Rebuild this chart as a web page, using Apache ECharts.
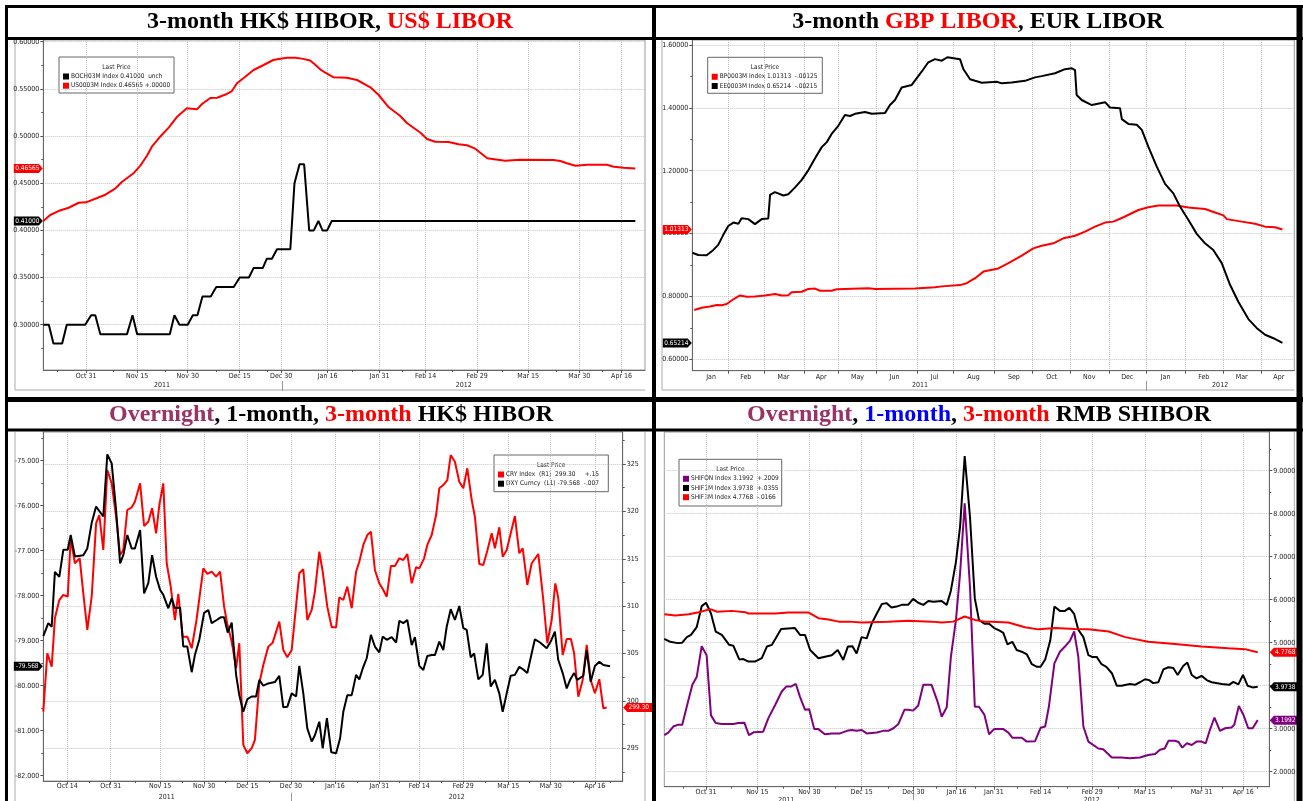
<!DOCTYPE html>
<html><head><meta charset="utf-8"><title>Interbank rates</title>
<script src="https://cdn.jsdelivr.net/npm/echarts@6/dist/echarts.min.js"></script>
<style>html,body{margin:0;padding:0;background:#fff}#chart{width:1303px;height:801px}</style>
</head><body><div id="chart"></div>
<script>
// ================= DATA =================
// x values = trading-day position on each panel's date axis

// ---- Panel 1: 3-month HK$ HIBOR (BOCH03M) vs US$ LIBOR (US0003M) ----
const p1XLabels = [[9.3,'Oct 31'],[20.4,'Nov 15'],[31.4,'Nov 30'],[42.7,'Dec 15'],[51.7,'Dec 30'],[61.8,'Jan 16'],[73.1,'Jan 31'],[83.1,'Feb 14'],[94.3,'Feb 29'],[105.4,'Mar 15'],[116.5,'Mar 30'],[125.7,'Apr 16']];
const p1XMinor = [3.1,15.3,26.5,37.7,48.6,67.1,78,88.8,99.7,111.6,121.4];
const p1Years = [[25.8,'2011'],[91.4,'2012']];
const p1YearSep = [52];
const p1YTicks = [0.30,0.35,0.40,0.45,0.50,0.55,0.60];
const p1YMinor = [0.275,0.325,0.375,0.425,0.475,0.525,0.575];
const hkHibor3m = [[0,0.30],[1.2,0.30],[2.2,0.28],[4.1,0.28],[5.1,0.30],[9.1,0.30],[10.4,0.31],[11.3,0.31],[12.4,0.29],[18.2,0.29],[19.4,0.31],[20.4,0.29],[27.5,0.29],[28.5,0.31],[29.6,0.30],[31.4,0.30],[32.5,0.31],[33.5,0.31],[34.6,0.33],[36.4,0.33],[37.6,0.34],[41.4,0.34],[42.7,0.35],[44.7,0.35],[45.7,0.36],[47.7,0.36],[48.6,0.37],[49.7,0.37],[50.8,0.38],[53.7,0.38],[54.6,0.45],[55.7,0.47],[56.7,0.47],[57.8,0.40],[58.8,0.40],[59.8,0.41],[60.7,0.40],[61.7,0.40],[62.7,0.41],[128.7,0.41]];
const usLibor3m = [[0,0.410],[1.5,0.4163],[3.3,0.4205],[5.5,0.424],[7.7,0.4293],[9.3,0.4297],[11.7,0.4343],[13.5,0.4378],[15.7,0.4446],[17,0.451],[19.6,0.4605],[21.1,0.4686],[22.5,0.4788],[23.6,0.4887],[25.4,0.4993],[27.3,0.5092],[29.1,0.5205],[31.2,0.5294],[33.4,0.5283],[34.5,0.534],[36.3,0.5403],[37.8,0.5406],[39.9,0.5446],[41,0.5477],[42.1,0.5559],[43.9,0.5629],[45.7,0.570],[47.9,0.5753],[50,0.5806],[51.5,0.582],[53,0.583],[54.8,0.583],[56.5,0.5818],[58,0.580],[59,0.576],[60.2,0.5707],[61.3,0.5671],[63.1,0.5622],[66,0.5618],[68.2,0.5594],[71.1,0.5516],[72.9,0.5435],[75.1,0.5305],[77.6,0.5212],[79.1,0.5135],[82,0.5035],[83.4,0.4968],[85.2,0.494],[88.1,0.4937],[90.3,0.4912],[92.1,0.4902],[93.9,0.4866],[96.5,0.4764],[100.4,0.4738],[103.7,0.4749],[110.9,0.4746],[112.4,0.4735],[113.8,0.4711],[115.7,0.4686],[118.2,0.4696],[122.5,0.4696],[124,0.4675],[126.2,0.4664],[128.7,0.46565]];
const p1Legend = [['#000000','BOCH03M Index 0.41000  unch'],['#ff0000','US0003M Index 0.46565 +.00000']];
const p1Tags = ['0.41000','0.46565'];

// ---- Panel 2: 3-month GBP LIBOR (BP0003M) vs EUR LIBOR (EE0003M) ----
const p2XLabels = [[10.4,'Jan'],[29.7,'Feb'],[50.6,'Mar'],[71.6,'Apr'],[91.8,'May'],[112.3,'Jun'],[134.6,'Jul'],[156.2,'Aug'],[178.6,'Sep'],[199.6,'Oct'],[220.5,'Nov'],[241.6,'Dec'],[262.9,'Jan'],[284.1,'Feb'],[305.2,'Mar'],[325.8,'Apr']];
const p2XBounds = [20,39.8,62.2,81.1,102.4,124.7,145,167.8,188.9,210.2,231.7,252.4,274.1,294.7,316.3];
const p2Years = [[126.5,'2011'],[293.2,'2012']];
const p2YearSep = [252.4];
const p2YTicks = [0.6,0.8,1.0,1.2,1.4,1.6];
const p2YMinor = [0.7,0.9,1.1,1.3,1.5];
const gbpLibor3m = [[1.1,0.757],[5.2,0.764],[9.8,0.768],[13.6,0.773],[16.3,0.772],[19.1,0.776],[22.8,0.791],[26.5,0.803],[30.2,0.799],[34.8,0.800],[40.4,0.803],[46,0.808],[49.7,0.803],[53.3,0.804],[55.2,0.813],[60.8,0.815],[64.5,0.824],[68.2,0.825],[70.9,0.818],[77.4,0.818],[80.2,0.823],[97.8,0.826],[101.5,0.824],[123.7,0.825],[134.8,0.829],[138.6,0.832],[148.7,0.836],[152.4,0.842],[157.1,0.858],[161.7,0.879],[170,0.889],[175.6,0.906],[183,0.930],[189.4,0.953],[194.1,0.961],[200.6,0.969],[206.1,0.985],[212.6,0.993],[218.2,1.006],[223.7,1.022],[229.3,1.035],[233.9,1.038],[239.5,1.052],[247.8,1.075],[253.3,1.084],[258.9,1.089],[269.1,1.089],[275.6,1.083],[284.8,1.078],[290.4,1.067],[295,1.058],[296.9,1.046],[305.2,1.038],[312.6,1.031],[318.2,1.022],[323.7,1.020],[327.8,1.01313]];
const eurLibor3m = [[0,0.939],[3.3,0.932],[8,0.931],[11.7,0.948],[14.4,0.964],[17.2,0.996],[20,1.024],[22.8,1.035],[25.6,1.031],[27.4,1.049],[31.1,1.046],[34.8,1.030],[38.6,1.046],[42.2,1.048],[43.2,1.123],[45.9,1.132],[50.6,1.121],[53.3,1.125],[57.1,1.147],[60.8,1.171],[64.5,1.202],[68.2,1.240],[71.9,1.275],[74.7,1.291],[77.4,1.317],[81.1,1.343],[84.8,1.377],[87.6,1.374],[90.4,1.381],[95.9,1.387],[99.7,1.381],[107.1,1.384],[109.8,1.409],[112.6,1.425],[116.3,1.465],[121.9,1.473],[127.4,1.515],[131.1,1.545],[134.8,1.555],[138.6,1.550],[141.7,1.561],[148.7,1.555],[150.6,1.523],[154.3,1.491],[157.1,1.486],[160.8,1.480],[169.1,1.483],[171.9,1.478],[177.4,1.481],[184.8,1.486],[190.4,1.497],[194.1,1.501],[201.5,1.510],[207,1.523],[210.8,1.526],[212.6,1.520],[213.5,1.441],[216.3,1.425],[221.9,1.409],[229.3,1.418],[232,1.401],[237.6,1.399],[238.6,1.364],[242.2,1.349],[246.9,1.346],[249.7,1.330],[253.3,1.277],[258,1.213],[262.6,1.158],[267.2,1.128],[270.9,1.086],[275.6,1.043],[280.2,0.999],[284.8,0.969],[289.4,0.948],[294.1,0.906],[298.7,0.837],[303.3,0.783],[308.9,0.728],[313.6,0.699],[318.2,0.678],[322.8,0.667],[327.8,0.65214]];
const p2Legend = [['#ff0000','BP0003M Index 1.01313  -.00125'],['#000000','EE0003M Index 0.65214  -.00215']];
const p2Tags = ['1.01313','0.65214'];

// ---- Panel 3: CRY Index (R1) vs DXY Curncy (L1) ----
const p3XLabels = [[6,'Oct 14'],[16.85,'Oct 31'],[29.2,'Nov 15'],[40.2,'Nov 30'],[51,'Dec 15'],[61.9,'Dec 30'],[72.9,'Jan 16'],[84,'Jan 31'],[94,'Feb 14'],[105,'Feb 29'],[116.25,'Mar 15'],[126.85,'Mar 30'],[137.9,'Apr 16']];
const p3XMinor = [11.4,23,34.7,45.6,56.45,67.4,78.45,89,99.5,110.6,121.55,132.4,141.7];
const p3Years = [[30.85,'2011'],[103.35,'2012']];
const p3YearSep = [62.1];
const p3LTicks = [-82,-81,-80,-79,-78,-77,-76,-75];
const p3LMinor = [-81.5,-80.5,-79.5,-78.5,-77.5,-76.5,-75.5,-74.5];
const p3RTicks = [295,300,305,310,315,320,325];
const p3RMinor = [292.5,297.5,302.5,307.5,312.5,317.5,322.5,327.5];
const cryIndex = [[0,298.87],[1,305.03],[2.1,303.62],[2.9,308.72],[4,310.65],[5,311.18],[6.1,311.0],[6.85,317.16],[7.9,314.53],[9.1,315.05],[10,311.36],[11,307.49],[12.1,311.0],[13.2,318.74],[14,319.62],[15,315.93],[16,324.37],[17.1,322.96],[18.2,319.44],[19.2,315.4],[20,315.93],[21,320.15],[22.1,320.43],[22.9,321.02],[24.2,322.96],[25.2,318.46],[26.25,318.91],[27.2,320.33],[28.2,317.69],[29,320.67],[30,322.96],[30.85,314.53],[31.85,312.06],[32.9,308.54],[33.75,311.29],[34.85,306.78],[36,306.78],[37.1,305.56],[38.3,308.54],[40,313.99],[41,313.40],[42.1,313.64],[43.2,313.11],[44.2,313.64],[45.2,309.95],[46,308.12],[47.1,306.26],[48.2,303.45],[49,306.09],[50,295.36],[51,294.48],[52.1,295.01],[52.9,295.89],[54,301.87],[55,303.80],[56.25,305.73],[57.35,306.15],[59,308.37],[60,305.38],[61,304.61],[62.1,305.38],[64,313.47],[65,313.89],[66,308.54],[67.1,309.60],[67.9,311.53],[69,315.75],[69.85,313.64],[71,309.95],[72.1,307.77],[73.2,307.77],[74,310.94],[75,310.65],[76,312.06],[77.1,309.78],[78.2,313.64],[79,314.69],[80,316.46],[81,317.51],[81.9,317.86],[82.9,313.82],[84,312.41],[85,311.71],[85.85,311.0],[86.9,314.24],[87.9,314.24],[89,315.05],[90,314.87],[91,315.51],[92.1,312.41],[93.2,314.10],[94,313.99],[95.2,315.05],[96,316.46],[97.1,317.51],[98.2,319.62],[99,322.44],[100,322.78],[101,323.31],[101.85,325.95],[102.9,325.24],[104,323.13],[105,322.44],[106,324.55],[107.1,321.20],[107.9,319.44],[109,314.45],[110,314.35],[111,315.85],[112.1,317.69],[112.9,316.11],[114,318.32],[114.85,315.22],[115.85,315.93],[116.85,317.69],[117.9,319.51],[119,315.58],[119.85,316.11],[121,312.24],[122.1,314.53],[123.75,315.51],[125,310.65],[126,306.09],[127.1,308.54],[128,312.41],[128.75,310.83],[129.85,304.85],[130.85,306.54],[131.9,306.54],[132.7,305.03],[133.75,300.45],[134.85,302.21],[135.85,305.91],[136.85,302.21],[137.9,300.81],[139,302.29],[140,299.23],[140.85,299.30]];
const dxyNeg = [[0,-78.90],[1.25,-78.61],[2.1,-78.69],[2.9,-77.47],[4,-77.58],[5,-76.98],[6.1,-76.98],[6.85,-76.65],[7.9,-77.13],[10,-77.10],[11,-76.95],[12.1,-76.38],[13.2,-76.02],[15,-76.24],[16,-74.86],[17.1,-75.06],[18.2,-76.10],[19.2,-77.28],[20,-77.10],[21,-76.65],[22.1,-76.95],[22.9,-76.95],[24.2,-76.54],[25.2,-77.95],[26.25,-77.72],[27.2,-77.10],[28.2,-77.58],[29.2,-77.87],[30,-77.98],[31.25,-78.28],[32.1,-78.06],[32.9,-78.28],[34.2,-78.26],[35,-79.13],[36,-79.13],[37.1,-79.70],[37.9,-79.32],[39,-78.98],[40.2,-78.38],[41.25,-78.32],[42.1,-78.61],[43.35,-78.54],[44.35,-78.48],[45.2,-78.48],[46.1,-78.82],[47.1,-78.60],[48.2,-79.76],[49,-80.21],[50,-80.58],[51,-80.30],[52.1,-80.24],[53.2,-80.24],[54,-79.87],[55,-80.00],[56.25,-79.95],[57.9,-79.92],[59,-79.78],[60,-80.48],[61,-80.47],[62.1,-80.17],[63.2,-80.24],[64,-79.56],[65,-80.17],[66,-80.95],[67.1,-81.24],[67.9,-81.10],[69,-80.80],[69.85,-81.39],[70.9,-80.72],[72,-81.48],[73.2,-81.50],[74.2,-81.17],[75,-80.58],[76,-80.21],[77.1,-80.21],[78.2,-79.76],[79,-79.86],[80,-79.58],[80.85,-79.39],[81.9,-78.87],[82.9,-79.13],[84,-79.26],[84.85,-78.91],[85.85,-78.98],[87.1,-78.92],[88.2,-79.04],[89,-78.56],[90,-78.61],[91,-78.54],[92.1,-79.10],[92.9,-78.92],[94,-79.56],[95,-79.65],[96,-79.34],[97.1,-79.32],[97.9,-79.32],[99,-79.02],[100,-79.21],[100.85,-78.69],[101.85,-78.30],[102.9,-78.54],[104,-78.23],[105,-78.72],[105.85,-78.76],[106.85,-79.37],[107.7,-79.28],[108.75,-79.86],[109.85,-79.76],[110.85,-79.06],[111.85,-80.02],[112.9,-79.87],[114,-80.17],[114.85,-80.58],[115.85,-80.17],[116.85,-79.78],[117.9,-79.76],[119,-79.58],[120,-79.64],[121,-79.72],[122.1,-79.28],[122.9,-78.97],[124.2,-79.04],[125.85,-79.17],[126.85,-79.02],[127.9,-78.80],[128.75,-79.43],[129.85,-79.72],[130.85,-80.06],[131.7,-79.87],[132.7,-79.72],[133.5,-79.87],[135,-79.78],[135.85,-79.21],[136.85,-79.91],[137.9,-79.56],[139,-79.47],[140,-79.54],[141.7,-79.568]];
const p3Legend = [['#ff0000','CRY Index  (R1)  299.30     +.15'],['#000000','DXY Curncy  (L1) -79.568  -.007']];
const p3Tags = ['-79.568','299.30'];

// ---- Panel 4: SHIBOR overnight / 1M / 3M ----
const p4XLabels = [[9.07,'Oct 31'],[20.22,'Nov 15'],[31.52,'Nov 30'],[42.91,'Dec 15'],[54.13,'Dec 30'],[63.54,'Jan 16'],[71.65,'Jan 31'],[81.8,'Feb 14'],[93.02,'Feb 29'],[104.48,'Mar 15'],[116.8,'Mar 31'],[125.85,'Apr 16']];
const p4XMinor = [4.1,14.65,25.9,37.1,48.7,59.2,67.5,76.8,87.5,98.7,110.3,121.2,129];
const p4Years = [[26.5,'2011'],[92.9,'2012']];
const p4YearSep = [54.13];
const p4YTicks = [2,3,4,5,6,7,8,9];
const p4YMinor = [2.5,3.5,4.5,5.5,6.5,7.5,8.5,9.5];
const shiborON = [[0,2.85],[0.87,2.91],[1.96,3.05],[2.9,3.09],[3.9,3.09],[5.07,3.59],[6.1,4.02],[7.04,4.20],[8.13,4.92],[9.2,4.71],[10.15,3.31],[11.17,3.13],[12.48,3.11],[15,3.11],[16.1,3.13],[17.4,3.14],[18.4,2.85],[19.5,2.92],[21.5,2.93],[22.6,3.24],[24.1,3.55],[25.5,3.86],[26.5,3.98],[27.5,3.98],[28.6,4.04],[29.5,3.74],[30.6,3.44],[31.5,3.45],[32.6,2.99],[33.5,2.99],[34.9,2.87],[36.4,2.89],[38.2,2.89],[39.7,2.95],[40.7,2.97],[41.8,2.95],[42.9,2.97],[44,2.89],[46.2,2.91],[47.6,2.95],[48.7,2.95],[49.8,3.01],[50.9,3.11],[52.2,3.44],[53,3.44],[54.1,3.42],[55.2,3.54],[56.3,4.02],[58.1,4.02],[59.4,3.63],[60.3,3.28],[61.4,3.50],[62.3,4.67],[63.4,5.53],[64.3,6.61],[65.3,8.24],[66.45,6.30],[67.5,3.51],[68.4,3.51],[69.6,3.32],[70.6,2.87],[71.7,2.99],[73.7,2.99],[74.8,2.91],[75.65,2.79],[77.7,2.79],[78.8,2.70],[80.6,2.71],[81.8,3.02],[82.8,3.05],[83.6,3.51],[84.8,4.52],[86,4.79],[87.1,4.91],[88.2,5.05],[89.1,5.26],[90,4.67],[91.1,3.05],[92.2,2.70],[94.35,2.54],[95.4,2.52],[97.3,2.33],[99.4,2.33],[101.2,2.31],[103.4,2.33],[105.2,2.39],[106.7,2.41],[107.75,2.51],[108.8,2.54],[109.6,2.72],[111,2.72],[111.8,2.69],[112.6,2.56],[113.6,2.66],[114.65,2.62],[115.7,2.70],[116.8,2.70],[117.7,2.66],[118.6,2.97],[119.6,3.26],[120.8,2.95],[121.9,3.01],[123.3,3.03],[123.9,3.09],[124.9,3.53],[125.9,3.32],[126.95,3.01],[127.9,3.01],[129,3.1992]];
const shibor1M = [[0,5.09],[1.3,5.02],[2.9,4.99],[3.9,5.0],[4.9,5.13],[5.8,5.18],[7.04,5.36],[8.13,5.85],[9.07,5.93],[10.15,5.68],[11.17,5.26],[12.5,5.18],[14.1,4.95],[15,4.93],[16.3,4.61],[17.2,4.62],[18.3,4.56],[19.7,4.56],[21.2,4.64],[22.3,4.91],[23.4,4.95],[25.4,5.32],[28.4,5.34],[29.5,5.18],[30.6,5.18],[31.7,4.83],[33.5,4.64],[36.4,4.71],[37.7,4.83],[38.9,4.60],[39.9,4.91],[40.9,4.92],[41.8,4.75],[42.9,5.13],[44,5.10],[45.1,5.45],[46.2,5.68],[47.3,5.90],[48.3,5.92],[49.4,5.82],[50.5,5.84],[51.6,5.88],[53,5.88],[54.1,6.02],[55.2,5.93],[56.3,5.88],[57.4,5.97],[58.5,5.95],[60.3,5.97],[61.4,5.88],[62.3,6.21],[63.4,6.88],[64.3,7.70],[65.3,9.34],[66.45,7.93],[67.5,6.03],[68.4,5.53],[69.6,5.44],[70.6,5.44],[71.7,5.34],[72.9,5.28],[73.7,5.23],[74.6,4.96],[75.65,5.02],[76.6,4.83],[77.7,4.79],[78.8,4.73],[79.9,4.50],[81,4.44],[81.8,4.44],[82.8,4.61],[83.9,5.05],[84.8,5.84],[86,5.74],[87.1,5.74],[88.05,5.81],[89.1,5.67],[90,5.30],[91.1,5.13],[92.2,4.71],[93,4.67],[94,4.67],[95.05,4.50],[96.1,4.44],[97.3,4.29],[98.35,4.0],[99.4,4.0],[101.2,4.04],[102.3,4.02],[103.4,4.08],[104.5,4.15],[105.4,4.13],[106.3,4.06],[107.4,4.08],[108.5,4.38],[109.6,4.43],[110.65,4.41],[111.6,4.25],[112.8,4.46],[113.7,4.54],[114.65,4.25],[115.7,4.17],[116.8,4.23],[117.9,4.13],[119,4.08],[121.2,4.04],[122.8,4.02],[123.7,4.09],[124.8,4.03],[125.8,4.25],[126.8,4.0],[127.9,3.96],[129,3.9738]];
const shibor3M = [[0,5.66],[2.4,5.63],[5.3,5.66],[7.5,5.71],[10,5.78],[11.5,5.72],[14.7,5.74],[17.6,5.71],[18.3,5.68],[24.1,5.68],[27,5.70],[31.4,5.70],[33.5,5.57],[35.7,5.54],[37.9,5.49],[40.1,5.49],[42.9,5.47],[48.7,5.49],[53,5.51],[58.1,5.49],[60.3,5.47],[62.8,5.49],[65.3,5.61],[67.5,5.53],[69.7,5.49],[71.1,5.49],[74.8,5.47],[78.4,5.36],[81.3,5.31],[84.95,5.34],[89.3,5.32],[92.2,5.31],[96.6,5.26],[100.2,5.13],[105.2,5.02],[111,4.97],[116.8,4.91],[122.6,4.87],[126.2,4.85],[129,4.7768]];
const p4Legend = [['#800080','SHIFON Index 3.1992  +.2009'],['#000000','SHIF1M Index 3.9738  +.0355'],['#ff0000','SHIF3M Index 4.7768  -.0166']];
const p4Tags = ['3.1992','3.9738','4.7768'];

// Titles (rich text segments)
const titles = [
  '{k|3-month HK$ HIBOR, }{r|US$ LIBOR}',
  '{k|3-month }{r|GBP LIBOR}{k|, EUR LIBOR}',
  '{p|Overnight}{k|, 1-month, }{r|3-month}{k| HK$ HIBOR}',
  '{p|Overnight}{k|, }{b|1-month}{k|, }{r|3-month}{k| RMB SHIBOR}'
];

// ================= BUILD =================
const FONT_AX = '"DejaVu Sans Condensed","Liberation Sans Narrow","Liberation Sans",sans-serif';
const AX_FS = 7;
const AXIS_C = '#666', TICK_C = '#555', LABEL_C = '#222', GRID_C = '#c4c4c4';
const RED = '#ff0000', BLACK = '#000000', PURPLE = '#800080';

const grids = [], xAxes = [], yAxes = [], series = [];
const lookup = list => v => { for (const t of list) if (Math.abs(t[0] - v) < 1e-6) return t[1]; return ''; };

function addGrid(g) {
  grids.push(Object.assign({show: true, borderColor: '#9a9a9a', borderWidth: 1, backgroundColor: 'transparent', containLabel: false, outerBoundsMode: 'none'}, g));
  return grids.length - 1;
}
function xMain(gi, min, max, labels, tickVals, margin) {
  xAxes.push({type: 'value', gridIndex: gi, min, max, position: 'bottom',
    axisLine: {show: true, onZero: false, lineStyle: {color: AXIS_C, width: 1}},
    axisTick: {show: true, customValues: tickVals, length: 3, lineStyle: {color: TICK_C}},
    axisLabel: {show: true, customValues: labels.map(t => t[0]), formatter: lookup(labels), margin, fontSize: AX_FS, fontFamily: FONT_AX, color: LABEL_C},
    splitLine: {show: true, lineStyle: {color: GRID_C, type: 'dotted', width: 1}}});
  return xAxes.length - 1;
}
function xMinor(gi, min, max, vals) {
  xAxes.push({type: 'value', gridIndex: gi, min, max, position: 'bottom',
    axisLine: {show: false, onZero: false}, axisTick: {show: true, customValues: vals, length: 2, lineStyle: {color: TICK_C}},
    axisLabel: {show: false}, splitLine: {show: false}});
}
function xYears(gi, min, max, years, sep, offset, margin) {
  xAxes.push({type: 'value', gridIndex: gi, min, max, position: 'bottom', offset,
    axisLine: {show: false, onZero: false}, axisTick: {show: true, customValues: sep, length: 10, lineStyle: {color: '#999'}},
    axisLabel: {show: true, customValues: years.map(t => t[0]), formatter: lookup(years), margin, fontSize: AX_FS, fontFamily: FONT_AX, color: LABEL_C},
    splitLine: {show: false}});
}
function yMain(gi, pos, min, max, ticks, fmt, split) {
  yAxes.push({type: 'value', gridIndex: gi, position: pos, min, max,
    axisLine: {show: true, onZero: false, lineStyle: {color: AXIS_C, width: 1}},
    axisTick: {show: true, customValues: ticks, length: 3, lineStyle: {color: TICK_C}},
    axisLabel: {show: true, customValues: ticks, formatter: fmt, margin: 4, fontSize: AX_FS, fontFamily: FONT_AX, color: LABEL_C},
    splitLine: {show: split, lineStyle: {color: GRID_C, type: 'dotted', width: 1}}});
  return yAxes.length - 1;
}
function yMinor(gi, pos, min, max, vals) {
  yAxes.push({type: 'value', gridIndex: gi, position: pos, min, max,
    axisLine: {show: false, onZero: false}, axisTick: {show: true, customValues: vals, length: 2, lineStyle: {color: TICK_C}},
    axisLabel: {show: false}, splitLine: {show: false}});
}
function tag(side, x, v, text, color) {
  const left = side === 'left';
  return {
    symbol: left ? 'path://M0,0L25,0L29,5L25,10L0,10Z' : 'path://M4,0L29,0L29,10L4,10L0,5Z',
    symbolSize: [29, 9], symbolOffset: [left ? -15 : 15, 0], silent: true,
    itemStyle: {color},
    label: {show: true, position: 'inside', formatter: text, color: '#fff', fontSize: 6.5, fontFamily: FONT_AX, offset: [left ? -1 : 1, 0]},
    data: [{coord: [x, v], value: v}]
  };
}
function line(name, data, xi, yi, color, mp) {
  series.push({type: 'line', name, data, xAxisIndex: xi, yAxisIndex: yi, showSymbol: false, symbol: 'none',
    lineStyle: {color, width: 2}, itemStyle: {color}, markPoint: mp, animation: false, z: 3});
}
const last = d => d[d.length - 1][1];

// Panel 1
{
  const gi = addGrid({left: 43.3, top: 40, width: 601.7, height: 330});
  const X0 = 0, X1 = 130.8;
  const xi = xMain(gi, X0, X1, p1XLabels, p1XLabels.map(t => t[0]), 3);
  xMinor(gi, X0, X1, p1XMinor);
  xYears(gi, X0, X1, p1Years, p1YearSep, 11, 1);
  const yi = yMain(gi, 'left', 0.2520, 0.6018, p1YTicks, v => v.toFixed(5), true);
  yMinor(gi, 'left', 0.2520, 0.6018, p1YMinor);
  line('BOCH03M Index', hkHibor3m, xi, yi, BLACK, tag('left', X0, last(hkHibor3m), p1Tags[0], BLACK));
  line('US0003M Index', usLibor3m, xi, yi, RED, tag('left', X0, last(usLibor3m), p1Tags[1], RED));
}
// Panel 2
{
  const gi = addGrid({left: 692.3, top: 40, width: 602, height: 330.7});
  const X0 = 0, X1 = 334.4;
  const xi = xMain(gi, X0, X1, p2XLabels, p2XBounds, 3);
  xYears(gi, X0, X1, p2Years, p2YearSep, 10, 1);
  const yi = yMain(gi, 'left', 0.5637, 1.6159, p2YTicks, v => v.toFixed(5), true);
  yMinor(gi, 'left', 0.5637, 1.6159, p2YMinor);
  line('BP0003M Index', gbpLibor3m, xi, yi, RED, tag('left', X0, last(gbpLibor3m), p2Tags[0], RED));
  line('EE0003M Index', eurLibor3m, xi, yi, BLACK, tag('left', X0, last(eurLibor3m), p2Tags[1], BLACK));
}
// Panel 3
{
  const gi = addGrid({left: 43.3, top: 432, width: 579.4, height: 349});
  const X0 = 0, X1 = 144.85;
  const xi = xMain(gi, X0, X1, p3XLabels, p3XLabels.map(t => t[0]), 2);
  xMinor(gi, X0, X1, p3XMinor);
  xYears(gi, X0, X1, p3Years, p3YearSep, 11.7, 1);
  const yl = yMain(gi, 'left', -82.118, -74.362, p3LTicks, v => v.toFixed(3), false);
  yMinor(gi, 'left', -82.118, -74.362, p3LMinor);
  const yr = yMain(gi, 'right', 291.55, 328.38, p3RTicks, v => String(Math.round(v)), true);
  yMinor(gi, 'right', 291.55, 328.38, p3RMinor);
  line('CRY Index', cryIndex, xi, yr, RED, tag('right', X1, last(cryIndex), p3Tags[1], RED));
  line('DXY Curncy', dxyNeg, xi, yl, BLACK, tag('left', X0, last(dxyNeg), p3Tags[0], BLACK));
}
// Panel 4
{
  const gi = addGrid({left: 664.3, top: 432, width: 605, height: 354.7});
  const X0 = 0, X1 = 131.52;
  const xi = xMain(gi, X0, X1, p4XLabels, p4XLabels.map(t => t[0]), 2);
  xMinor(gi, X0, X1, p4XMinor);
  xYears(gi, X0, X1, p4Years, p4YearSep, 3.5, 6);
  const yi = yMain(gi, 'right', 1.651, 9.9, p4YTicks, v => v.toFixed(4), true);
  yMinor(gi, 'right', 1.651, 9.9, p4YMinor);
  line('SHIFON Index', shiborON, xi, yi, PURPLE, tag('right', X1, last(shiborON), p4Tags[0], PURPLE));
  line('SHIF1M Index', shibor1M, xi, yi, BLACK, tag('right', X1, last(shibor1M), p4Tags[1], BLACK));
  line('SHIF3M Index', shibor3M, xi, yi, RED, tag('right', X1, last(shibor3M), p4Tags[2], RED));
}

// ---------- graphics: frame, titles, legends ----------
const LFONT = '6.5px ' + FONT_AX;
function legendBox(x, y, w, h, items) {
  const ch = [
    {type: 'rect', shape: {x: 0, y: 0, width: w, height: h}, style: {fill: '#fff', stroke: '#666', lineWidth: 1}},
    {type: 'text', style: {text: 'Last Price', x: w / 2, y: 10, textAlign: 'center', textVerticalAlign: 'middle', font: LFONT, fill: '#222'}}
  ];
  items.forEach((it, i) => {
    const cy = 19.5 + i * 9.2;
    ch.push({type: 'rect', shape: {x: 4, y: cy - 3, width: 6, height: 6}, style: {fill: it[0]}});
    ch.push({type: 'text', style: {text: it[1], x: 12, y: cy, textAlign: 'left', textVerticalAlign: 'middle', font: LFONT, fill: '#222'}});
  });
  return {type: 'group', x, y, z: 20, children: ch};
}
const TF = {fontSize: 24, fontWeight: 'bold', fontFamily: '"Liberation Serif","Times New Roman",serif'};
const rich = {k: Object.assign({fill: '#000'}, TF), r: Object.assign({fill: '#ff0000'}, TF), p: Object.assign({fill: '#993366'}, TF), b: Object.assign({fill: '#0000ff'}, TF)};
function title(x, y, t) { return {type: 'text', x, y, z: 30, style: {text: t, rich, textAlign: 'center', textVerticalAlign: 'middle'}}; }
const ln = (x1, y1, x2, y2, w, c, z) => ({type: 'line', z: z == null ? 40 : z, shape: {x1, y1, x2, y2}, style: {stroke: c || '#000', lineWidth: w}});

const graphic = [
  // inner chart frames (light grey), drawn underneath labels
  ln(15, 40, 15, 390, 1, '#aaa', 0), ln(15, 390, 645, 390, 1, '#aaa', 0),
  ln(662, 40, 662, 390, 1, '#aaa', 0), ln(662, 390, 1294.3, 390, 1, '#aaa', 0),
  ln(15, 432, 15, 801, 1, '#aaa', 0), ln(645, 432, 645, 801, 1, '#aaa', 0),
  ln(1294.3, 432, 1294.3, 801, 1, '#aaa', 0),
  // table borders
  ln(5, 6.5, 1303, 6.5, 3), ln(6.5, 5, 6.5, 801, 3), ln(1299.5, 5, 1299.5, 801, 6),
  ln(654, 5, 654, 801, 4),
  ln(5, 38.5, 1303, 38.5, 3), ln(5, 399.5, 1303, 399.5, 5), ln(5, 430, 1303, 430, 3),
  // titles
  title(330, 22, titles[0]), title(978, 22, titles[1]), title(331, 414.5, titles[2]), title(979, 414.5, titles[3]),
  // legends
  legendBox(59, 57, 115, 36, p1Legend),
  legendBox(707.7, 57.3, 114.6, 36, p2Legend),
  legendBox(494, 455, 114.3, 36.7, p3Legend),
  legendBox(679, 459.3, 102.7, 46.7, p4Legend)
];

const chart = echarts.init(document.getElementById('chart'), null, {renderer: 'canvas'});
chart.setOption({animation: false, backgroundColor: '#fff', grid: grids, xAxis: xAxes, yAxis: yAxes, series, graphic});
</script></body></html>
